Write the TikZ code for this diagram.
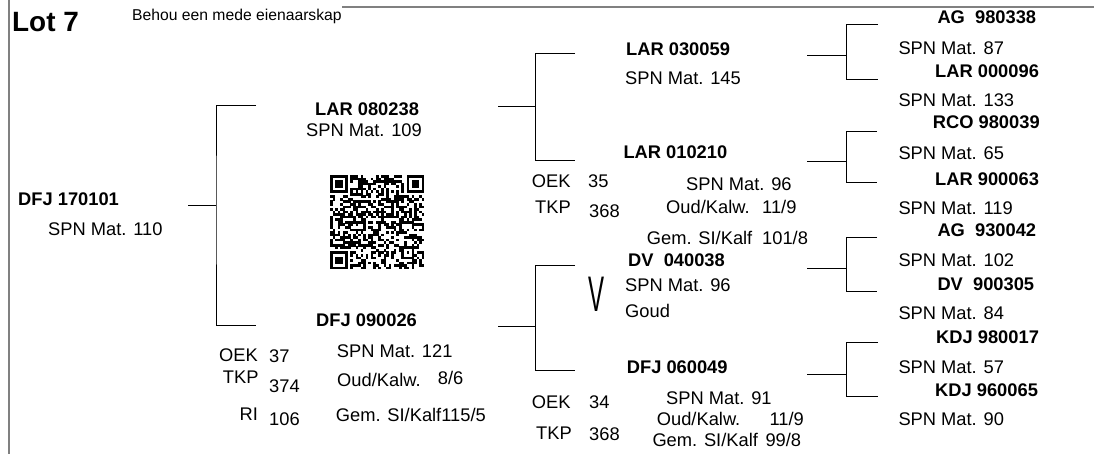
\documentclass[tikz,border=0pt]{standalone}
\usepackage{fontspec}
\setmainfont{Liberation Sans}

\begin{document}
\begin{tikzpicture}[
  x=1pt,
  y=-1pt,
  animal/.style={
    font=\fontsize{18.3}{22}\selectfont\bfseries,
    anchor=base west,
    inner sep=0pt,
  },
  detail/.style={
    font=\fontsize{18.3}{22}\selectfont,
    anchor=base west,
    inner sep=0pt,
  },
  link/.style={
    draw,
    line width=0.9pt,
  },
  frame/.style={
    draw=gray,
    line width=2pt,
  },
]
\useasboundingbox (0,0) rectangle (1094,454);

% Frame
\draw[frame] (9,0) -- (9,454);
\draw[frame] (342,7) -- (1094,7);

\node[animal, font=\fontsize{27.9}{30}\selectfont\bfseries] (lot) at (12,31.7) {Lot 7};
\node[detail, font=\fontsize{15.7}{18}\selectfont] (note) at (132,20.7) {Behou een mede eienaarskap};

% Generation 1
\node[animal] (g1) at (18,206) {DFJ 170101};
\node[detail] (g1-spn) at (48,236) {SPN Mat. 110};

% Generation 2
\node[animal] (g2a) at (315,115.5) {LAR 080238};
\node[detail] (g2a-spn) at (306,136.5) {SPN Mat. 109};

\node[animal] (g2b) at (316,326.7) {DFJ 090026};
\node[detail] (g2b-oek) at (219,361) {OEK};
\node[detail] (g2b-oekv) at (269,362.5) {37};
\node[detail] (g2b-tkp) at (222.7,383.3) {TKP};
\node[detail] (g2b-tkpv) at (269,392.7) {374};
\node[detail] (g2b-ri) at (239.5,420.7) {RI};
\node[detail] (g2b-riv) at (269,425.3) {106};
\node[detail] (g2b-spn) at (336.7,357.3) {SPN Mat. 121};
\node[detail] (g2b-oud) at (337,386) {Oud/Kalw.};
\node[detail] (g2b-oudv) at (437.7,384.3) {8/6};
\node[detail] (g2b-gem) at (335.7,421.7) {Gem. SI/Kalf115/5};

% Generation 3
\node[animal] (g3a) at (626,56) {LAR 030059};
\node[detail] (g3a-spn) at (625,85) {SPN Mat. 145};

\node[animal] (g3b) at (623.3,159) {LAR 010210};
\node[detail] (g3b-oek) at (531.7,187.7) {OEK};
\node[detail] (g3b-oekv) at (588,187.7) {35};
\node[detail] (g3b-tkp) at (535,213.7) {TKP};
\node[detail] (g3b-tkpv) at (589,217.3) {368};
\node[detail] (g3b-spn) at (686,190.7) {SPN Mat. 96};
\node[detail] (g3b-oud) at (666,214) {Oud/Kalw.};
\node[detail] (g3b-oudv) at (762,214) {11/9};
\node[detail] (g3b-gem) at (646.7,244) {Gem. SI/Kalf};
\node[detail] (g3b-gemv) at (762,244) {101/8};

\node[animal] (g3c) at (628,266.7) {DV\ \ 040038};
\node[detail, font=\fontsize{50}{50}\selectfont, xscale=0.48] (g3c-mark) at (588,311) {V};
\node[detail] (g3c-spn) at (625,291.7) {SPN Mat. 96};
\node[detail] (g3c-goud) at (625,317.3) {Goud};

\node[animal] (g3d) at (626.7,373.3) {DFJ 060049};
\node[detail] (g3d-oek) at (531.7,408.3) {OEK};
\node[detail] (g3d-oekv) at (589,408.3) {34};
\node[detail] (g3d-tkp) at (536,439.3) {TKP};
\node[detail] (g3d-tkpv) at (589,440) {368};
\node[detail] (g3d-spn) at (666,404.3) {SPN Mat. 91};
\node[detail] (g3d-oud) at (656.7,425) {Oud/Kalw.};
\node[detail] (g3d-oudv) at (769.3,425) {11/9};
\node[detail] (g3d-gem) at (652.3,446.7) {Gem. SI/Kalf};
\node[detail] (g3d-gemv) at (765.3,446.7) {99/8};

% Generation 4
\node[animal] (g4a) at (937.3,23.3) {AG\ \ 980338};
\node[detail] (g4a-spn) at (898.3,55) {SPN Mat. 87};
\node[animal] (g4b) at (935,77.3) {LAR 000096};
\node[detail] (g4b-spn) at (898.3,106.7) {SPN Mat. 133};
\node[animal] (g4c) at (932.7,129) {RCO 980039};
\node[detail] (g4c-spn) at (898.3,159.3) {SPN Mat. 65};
\node[animal] (g4d) at (935,185.7) {LAR 900063};
\node[detail] (g4d-spn) at (898.3,215) {SPN Mat. 119};
\node[animal] (g4e) at (937.3,236.7) {AG\ \ 930042};
\node[detail] (g4e-spn) at (898.3,266) {SPN Mat. 102};
\node[animal] (g4f) at (937.3,290.7) {DV\ \ 900305};
\node[detail] (g4f-spn) at (898.3,319.3) {SPN Mat. 84};
\node[animal] (g4g) at (936,343.3) {KDJ 980017};
\node[detail] (g4g-spn) at (898.3,373.3) {SPN Mat. 57};
\node[animal] (g4h) at (935,396) {KDJ 960065};
\node[detail] (g4h-spn) at (898.3,425) {SPN Mat. 90};

% Brackets
\foreach \nm/\fx/\ix/\iy/\ty/\by/\ex in {
  b1/216/188/205/105.5/325.5/256,
  b2/535.5/498/106.7/53/160/575,
  b3/535.5/498/326.7/265/370/575,
  b4/846/807/55/24/79/878,
  b5/846/807/161.7/131.7/182.7/877,
  b6/846/807/268.3/237.7/291.7/877,
  b7/846/807/374/342.7/396/878}
{
  \coordinate (\nm-in) at (\ix,\iy);
  \coordinate (\nm-fork) at (\fx,\iy);
  \coordinate (\nm-up) at (\ex,\ty);
  \coordinate (\nm-dn) at (\ex,\by);
  \draw[link] (\nm-up) -| (\nm-fork) |- (\nm-dn);
  \draw[link] (\nm-in) -- (\nm-fork);
}

% QR code
\begin{scope}[shift={(330,175)}, x=2.55pt, y=-2.55pt]
  \pgfmathsetseed{1707}
  \foreach \i in {0,...,36}{
    \foreach \j in {0,...,36}{
      \pgfmathtruncatemacro\qrbit{((\i<8 && \j<8) || (\i>28 && \j<8) || (\i<8 && \j>28)) ? 0 : ((\i==6 || \j==6) ? (1-mod(\i+\j,2)) : (rnd<0.5))}
      \ifnum\qrbit=1 \fill (\i,\j) rectangle ++(1.05,1.05); \fi
    }
  }
  \foreach \qx/\qy in {0/0, 30/0, 0/30}{
    \fill (\qx,\qy) rectangle ++(7,7);
    \fill[white] (\qx+1,\qy+1) rectangle ++(5,5);
    \fill (\qx+2,\qy+2) rectangle ++(3,3);
  }
  \fill (28,28) rectangle ++(5,5);
  \fill[white] (29,29) rectangle ++(3,3);
  \fill (30,30) rectangle ++(1,1);
\end{scope}

\end{tikzpicture}
\end{document}
